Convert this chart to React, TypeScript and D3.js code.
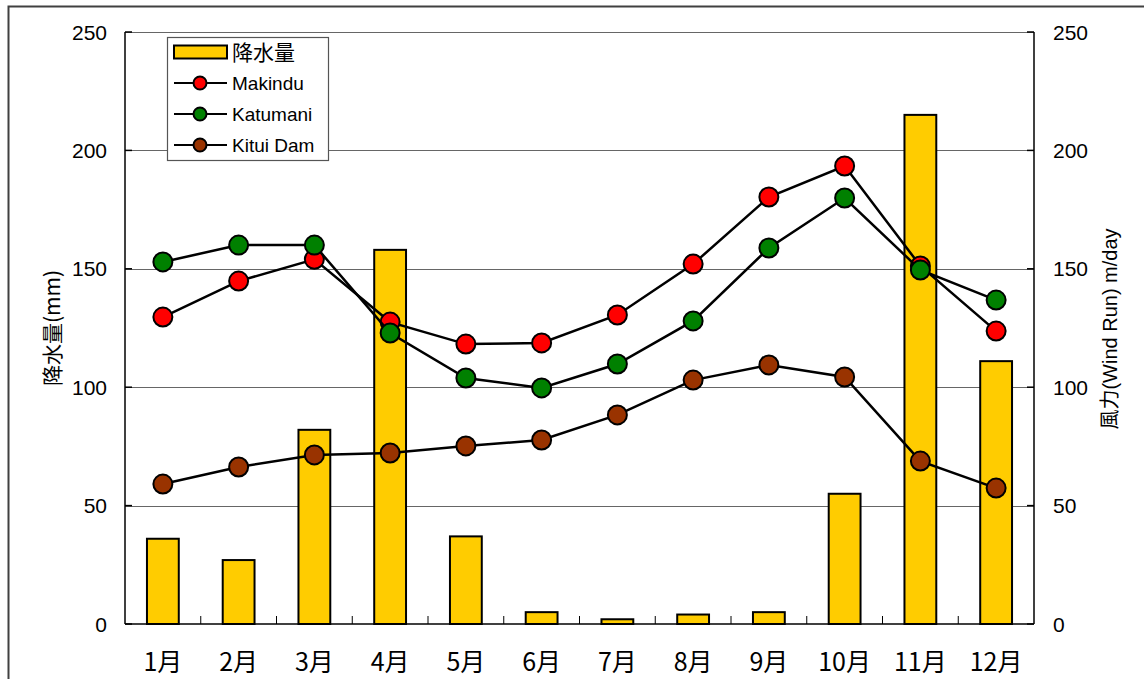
import React, { useEffect, useRef } from 'react'
import * as d3 from 'd3'

// monthly categories
const months = ['1月', '2月', '3月', '4月', '5月', '6月', '7月', '8月', '9月', '10月', '11月', '12月']
// rainfall (mm), left axis
const rainfall = [36, 27, 82, 158, 37, 5, 2, 4, 5, 55, 215, 111]
// wind run (m/day), right axis
const makindu = [129.6, 144.8, 154, 127.5, 118.2, 118.7, 130.5, 152, 180.3, 193.4, 151.2, 123.7]
const katumani = [152.9, 160, 160, 122.9, 103.9, 99.7, 109.8, 128, 158.8, 179.9, 149.5, 136.8]
const kituiDam = [59.1, 66.3, 71.4, 72.2, 75.2, 77.7, 88.3, 103, 109.4, 104.3, 68.8, 57.4]
const yTicks = [0, 50, 100, 150, 200, 250]

const seriesList = [
  { name: 'Makindu', values: makindu, color: '#FF0000' },
  { name: 'Katumani', values: katumani, color: '#008000' },
  { name: 'Kitui Dam', values: kituiDam, color: '#993300' },
]

const FONT = '"Liberation Sans", Arial, "Noto Sans CJK JP", sans-serif'
const CJK = '"Noto Sans CJK JP", "Liberation Sans", sans-serif'

export default function App() {
  const ref = useRef<SVGSVGElement>(null)

  useEffect(() => {
    const svg = d3.select(ref.current)
    svg.selectAll('*').remove()

    const left = 125, right = 1034, top = 32, bottom = 624

    const x = d3.scaleBand().domain(months).range([left, right]).padding(0)
    const yL = d3.scaleLinear().domain([0, 250]).range([bottom, top])
    const yR = d3.scaleLinear().domain([0, 250]).range([bottom, top])

    // outer frame
    svg.append('rect')
      .attr('x', 8.5).attr('y', 6.5)
      .attr('width', 1200).attr('height', 700)
      .attr('fill', 'white').attr('stroke', '#404040').attr('stroke-width', 2)

    // gridlines
    svg.append('g').selectAll('line').data(yTicks.slice(1)).join('line')
      .attr('x1', left).attr('x2', right)
      .attr('y1', d => Math.round(yL(d)) + 0.5).attr('y2', d => Math.round(yL(d)) + 0.5)
      .attr('stroke', '#666').attr('stroke-width', 1.2)

    // bars
    const bw = x.bandwidth() * 0.42
    svg.append('g').selectAll('rect').data(rainfall).join('rect')
      .attr('x', (d, i) => x(months[i])! + (x.bandwidth() - bw) / 2)
      .attr('y', d => yL(d))
      .attr('width', bw)
      .attr('height', d => bottom - yL(d))
      .attr('fill', '#FFCC00').attr('stroke', '#000').attr('stroke-width', 2)

    // axes frame
    const axisG = svg.append('g').attr('stroke', '#000').attr('stroke-width', 1.5)
    axisG.append('line').attr('x1', left).attr('x2', left).attr('y1', top).attr('y2', bottom)
    axisG.append('line').attr('x1', right).attr('x2', right).attr('y1', top).attr('y2', bottom)
    axisG.append('line').attr('x1', left).attr('x2', right).attr('y1', bottom).attr('y2', bottom)
    // inward ticks
    axisG.selectAll('.tl').data(yTicks).join('line').attr('class', 'tl')
      .attr('x1', left).attr('x2', left + 7).attr('y1', d => yL(d)).attr('y2', d => yL(d))
    axisG.selectAll('.tr').data(yTicks).join('line').attr('class', 'tr')
      .attr('x1', right - 7).attr('x2', right).attr('y1', d => yR(d)).attr('y2', d => yR(d))
    axisG.selectAll('.tx').data(months.slice(1)).join('line').attr('class', 'tx')
      .attr('x1', d => x(d)!).attr('x2', d => x(d)!).attr('y1', bottom).attr('y2', bottom - 8)
      .attr('stroke-width', 1)

    // tick labels
    svg.append('g').selectAll('text').data(yTicks).join('text')
      .attr('x', 107).attr('y', d => yL(d)).attr('dy', '0.36em')
      .attr('text-anchor', 'end').attr('font-family', FONT).attr('font-size', 21)
      .text(d => d)
    svg.append('g').selectAll('text').data(yTicks).join('text')
      .attr('x', 1053).attr('y', d => yR(d)).attr('dy', '0.36em')
      .attr('text-anchor', 'start').attr('font-family', FONT).attr('font-size', 21)
      .text(d => d)
    svg.append('g').selectAll('text').data(months).join('text')
      .attr('x', d => x(d)! + x.bandwidth() / 2).attr('y', 671)
      .attr('text-anchor', 'middle').attr('font-family', CJK).attr('font-size', 25)
      .text(d => d)

    // axis titles
    svg.append('text')
      .attr('transform', 'translate(52,328) rotate(-90)')
      .attr('text-anchor', 'middle').attr('dy', '0.36em')
      .attr('font-family', CJK).attr('font-size', 21)
      .text('降水量(mm)')
    svg.append('text')
      .attr('transform', 'translate(1110,329) rotate(-90)')
      .attr('text-anchor', 'middle').attr('dy', '0.36em')
      .attr('font-family', FONT).attr('font-size', 20)
      .text('風力(Wind Run) m/day')

    // lines and markers
    const line = d3.line<number>()
      .x((d, i) => x(months[i])! + x.bandwidth() / 2)
      .y(d => yR(d))
    seriesList.forEach(s => {
      const g = svg.append('g')
      g.append('path').datum(s.values).attr('d', line)
        .attr('fill', 'none').attr('stroke', '#000').attr('stroke-width', 2.5)
      g.selectAll('circle').data(s.values).join('circle')
        .attr('cx', (d, i) => x(months[i])! + x.bandwidth() / 2)
        .attr('cy', d => yR(d))
        .attr('r', 9.5)
        .attr('fill', s.color).attr('stroke', '#000').attr('stroke-width', 2)
    })

    // legend
    const lg = svg.append('g')
    lg.append('rect').attr('x', 167.5).attr('y', 37.5).attr('width', 161).attr('height', 123)
      .attr('fill', 'white').attr('stroke', '#555').attr('stroke-width', 1.2)
    lg.append('rect').attr('x', 174).attr('y', 45.5).attr('width', 53).attr('height', 13)
      .attr('fill', '#FFCC00').attr('stroke', '#000').attr('stroke-width', 2)
    lg.append('text').attr('x', 232).attr('y', 52).attr('dy', '0.36em')
      .attr('font-family', CJK).attr('font-size', 21).text('降水量')
    seriesList.forEach((s, i) => {
      const cy = 83 + i * 31
      lg.append('line').attr('x1', 174).attr('x2', 227).attr('y1', cy).attr('y2', cy)
        .attr('stroke', '#000').attr('stroke-width', 2)
      lg.append('circle').attr('cx', 200).attr('cy', cy).attr('r', 6.5)
        .attr('fill', s.color).attr('stroke', '#000').attr('stroke-width', 2)
      lg.append('text').attr('x', 232).attr('y', cy).attr('dy', '0.36em')
        .attr('font-family', FONT).attr('font-size', 19).text(s.name)
    })
  }, [])

  return (
    <svg ref={ref} width={1144} height={679}
      style={{ position: 'absolute', left: 0, top: 0, background: 'white' }} />
  )
}
